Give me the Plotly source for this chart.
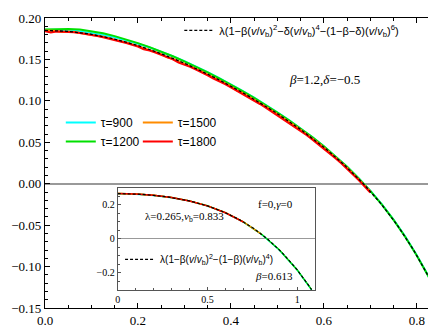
import numpy as np
import plotly.graph_objects as go

# main panel data
v_main = [0.0, 0.025, 0.05, 0.075, 0.1, 0.125, 0.15, 0.175, 0.2, 0.225, 0.25, 0.275,
          0.3, 0.325, 0.35, 0.375, 0.4, 0.425, 0.45, 0.475, 0.5, 0.525, 0.55, 0.575,
          0.6, 0.625, 0.65, 0.675, 0.7, 0.725, 0.75, 0.775, 0.8, 0.825, 0.85]
tau900 = [0.1858, 0.1858, 0.1854, 0.1840, 0.1820, 0.1795, 0.1766, 0.1731, 0.1690, 0.1644,
          0.1594, 0.1539, 0.1479, 0.1415, 0.1347, 0.1275, 0.1200, 0.1121, 0.1039, 0.0953,
          0.0862, 0.0768, 0.0669, 0.0564, 0.0453, 0.0334, 0.0206, 0.0066, -0.0084, -0.0250,
          -0.0433, -0.0636, -0.0862, -0.1115, -0.1400]
tau1200 = [0.1860, 0.1865, 0.1866, 0.1860, 0.1842, 0.1815, 0.1781, 0.1741, 0.1697, 0.1648,
           0.1595, 0.1538, 0.1477, 0.1412, 0.1343, 0.1271, 0.1196, 0.1117, 0.1035, 0.0949,
           0.0859, 0.0765, 0.0666, 0.0562, 0.0451, 0.0332, 0.0204, 0.0065, -0.0086, -0.0252,
           -0.0436, -0.0640, -0.0866, -0.1118, -0.1402]

v_fine = [0.0, 0.0125, 0.025, 0.0375, 0.05, 0.0625, 0.075, 0.0875, 0.1, 0.1125, 0.125, 0.1375,
          0.15, 0.1625, 0.175, 0.1875, 0.2, 0.2125, 0.225, 0.2375, 0.25, 0.2625, 0.275, 0.2875,
          0.3, 0.3125, 0.325, 0.3375, 0.35, 0.3625, 0.375, 0.3875, 0.4, 0.4125, 0.425, 0.4375,
          0.45, 0.4625, 0.475, 0.4875, 0.5, 0.5125, 0.525, 0.5375, 0.55, 0.5625, 0.575, 0.5875,
          0.6, 0.6125, 0.625, 0.6375, 0.65, 0.6625, 0.675, 0.6875, 0.7]
tau1500 = [0.1848, 0.1845, 0.1843, 0.1830, 0.1837, 0.1832, 0.1822, 0.1812, 0.1800, 0.1787,
           0.1773, 0.1757, 0.1742, 0.1724, 0.1705, 0.1685, 0.1663, 0.1640, 0.1616, 0.1591,
           0.1565, 0.1526, 0.1510, 0.1481, 0.1450, 0.1419, 0.1387, 0.1353, 0.1320, 0.1284,
           0.1249, 0.1212, 0.1175, 0.1128, 0.1097, 0.1058, 0.1016, 0.0974, 0.0931, 0.0887,
           0.0842, 0.0796, 0.0749, 0.0701, 0.0651, 0.0601, 0.0548, 0.0494, 0.0437, 0.0379,
           0.0319, 0.0257, 0.0192, 0.0124, 0.0054, -0.0019, -0.0094]
tau1800 = [0.1840, 0.1825, 0.1838, 0.1836, 0.1832, 0.1828, 0.1818, 0.1808, 0.1796, 0.1783,
           0.1768, 0.1752, 0.1736, 0.1716, 0.1698, 0.1676, 0.1655, 0.1622, 0.1608, 0.1584,
           0.1556, 0.1530, 0.1500, 0.1462, 0.1440, 0.1410, 0.1376, 0.1345, 0.1308, 0.1270,
           0.1238, 0.1203, 0.1163, 0.1124, 0.1085, 0.1040, 0.1004, 0.0962, 0.0918, 0.0872,
           0.0828, 0.0778, 0.0736, 0.0688, 0.0638, 0.0588, 0.0535, 0.0480, 0.0425, 0.0366,
           0.0307, 0.0246, 0.0181, 0.0114, 0.0044, -0.0030, -0.0106]

# inset data
v_inset = [0.0, 0.1, 0.2, 0.3, 0.4, 0.5, 0.6, 0.7, 0.8, 0.9, 1.0, 1.08]
in900 = [0.2640, 0.2618, 0.2545, 0.2412, 0.2212, 0.1925, 0.1524, 0.0985, 0.0272, -0.0652, -0.1830, -0.2990]
in1200 = [0.2655, 0.2632, 0.2558, 0.2428, 0.2226, 0.1936, 0.1534, 0.0994, 0.0282, -0.0642, -0.1820, -0.2975]
in1500 = [0.2652, 0.2628, 0.2554, 0.2424, 0.2222, 0.1933, 0.1532, 0.0990, 0.0276]
in1800 = [0.2650, 0.2626, 0.2552, 0.2421, 0.2220, 0.1931, 0.1530, 0.0988]

labels = ['τ=900', 'τ=1200', 'τ=1500', 'τ=1800']
colors = ['#00FFFF', '#00E000', '#FF8C00', '#FF0000']

# fit parameters
lam, vb, beta, delta = 0.185, 0.685, 1.2, -0.5
lam_in, vb_in, beta_in = 0.265, 0.833, 0.613

serif = 'Liberation Serif'
sans = 'Liberation Sans'

fig = go.Figure()

main_x = [v_main, v_main, v_fine, v_fine]
main_series = [tau900, tau1200, tau1500, tau1800]
legends = ['legend', 'legend', 'legend2', 'legend2']
for name, x, y, c, lg in zip(labels, main_x, main_series, colors, legends):
    fig.add_trace(go.Scatter(x=x, y=y, mode='lines', name=name,
                             line=dict(color=c, width=2), legend=lg))

v = np.linspace(0, 0.85, 200)
u = v / vb
fit = lam * (1 - beta * u**2 - delta * u**4 - (1 - beta - delta) * u**6)
fit_name = ('λ(1−β(<i>v</i>/<i>v</i><sub>b</sub>)<sup>2</sup>−δ(<i>v</i>/<i>v</i><sub>b</sub>)<sup>4</sup>'
            '−(1−β−δ)(<i>v</i>/<i>v</i><sub>b</sub>)<sup>6</sup>)')
fig.add_trace(go.Scatter(x=v, y=fit, mode='lines', name=fit_name, legend='legend3',
                         line=dict(color='black', width=1.3, dash='3px,2px')))

# inset
for y, c in zip([in900, in1200, in1500, in1800], colors):
    fig.add_trace(go.Scatter(x=v_inset[:len(y)], y=y, mode='lines', showlegend=False,
                             line=dict(color=c, width=1.5), xaxis='x2', yaxis='y2'))

vi = np.linspace(0, 1.08, 150)
ui = vi / vb_in
fit_in = lam_in * (1 - beta_in * ui**2 - (1 - beta_in) * ui**4)
fit_in_name = 'λ(1−β(<i>v</i>/<i>v</i><sub>b</sub>)<sup>2</sup>−(1−β)(<i>v</i>/<i>v</i><sub>b</sub>)<sup>4</sup>)'
fig.add_trace(go.Scatter(x=vi, y=fit_in, mode='lines', name=fit_in_name, legend='legend4',
                         line=dict(color='black', width=1.2, dash='3px,2px'),
                         xaxis='x2', yaxis='y2'))

frame = dict(showline=True, linecolor='black', linewidth=1.3, mirror='allticks',
             ticks='inside', ticklen=5, tickcolor='black', showgrid=False,
             ticklabeloverflow='allow',
             tickfont=dict(family=serif, size=13, color='black'))

fig.update_layout(
    width=436, height=327,
    margin=dict(l=37, r=3, t=5, b=27),
    plot_bgcolor='white', paper_bgcolor='white',
    xaxis=dict(range=[0, 0.85], dtick=0.2, tickformat='.1f', zeroline=False,
               minor=dict(dtick=0.05, ticks='inside', ticklen=3, tickcolor='black'), **frame),
    yaxis=dict(range=[-0.15, 0.2], dtick=0.05, tickformat='.2f',
               zeroline=True, zerolinecolor='#999999', zerolinewidth=1.5,
               minor=dict(dtick=0.01, ticks='inside', ticklen=3, tickcolor='black'), **frame),
    xaxis2=dict(domain=[0.184, 0.684], anchor='y2', range=[0, 1.1], tickvals=[0, 0.5, 1],
                ticktext=['0', '0.5', '1'], ticklabeloverflow='allow',
                showline=True, linecolor='#555555', linewidth=1, mirror=True,
                ticks='inside', ticklen=3, tickcolor='#555555', showgrid=False, zeroline=False,
                minor=dict(dtick=0.1, ticks='inside', ticklen=2, tickcolor='#555555'),
                tickfont=dict(family=serif, size=10, color='black')),
    yaxis2=dict(domain=[0.062, 0.415], anchor='x2', range=[-0.3, 0.3], dtick=0.2,
                showline=True, linecolor='#555555', linewidth=1, mirror=True,
                ticks='inside', ticklen=3, tickcolor='#555555', showgrid=False,
                zeroline=True, zerolinecolor='#999999', zerolinewidth=1.3,
                minor=dict(dtick=0.05, ticks='inside', ticklen=2, tickcolor='#555555'),
                tickfont=dict(family=serif, size=10, color='black')),
    legend=dict(x=0.04, y=0.69, xanchor='left', yanchor='top', bgcolor='rgba(0,0,0,0)',
                font=dict(family=sans, size=12, color='black')),
    legend2=dict(x=0.235, y=0.69, xanchor='left', yanchor='top', bgcolor='rgba(0,0,0,0)',
                 font=dict(family=sans, size=12, color='black')),
    legend3=dict(x=0.34, y=0.957, xanchor='left', yanchor='middle', bgcolor='rgba(0,0,0,0)',
                 font=dict(family=sans, size=11, color='black')),
    legend4=dict(x=0.19, y=0.168, xanchor='left', yanchor='middle', bgcolor='rgba(0,0,0,0)',
                 font=dict(family=sans, size=10, color='black')),
    showlegend=True,
)

notes = [
    ('<i>β</i>=1.2,<i>δ</i>=−0.5', 0.803, 0.82, 13),
    ('f=0,<i>γ</i>=0', 0.583, 0.357, 11),
    ('λ=0.265,<i>ν</i><sub>b</sub>=0.833', 0.354, 0.283, 11),
    ('<i>β</i>=0.613', 0.581, 0.083, 11),
]
for txt, x, y, s in notes:
    fig.add_annotation(text=txt, x=x, y=y, xref='paper', yref='paper', showarrow=False,
                       font=dict(family=serif, size=s, color='black'))

fig.write_html("out.html")
